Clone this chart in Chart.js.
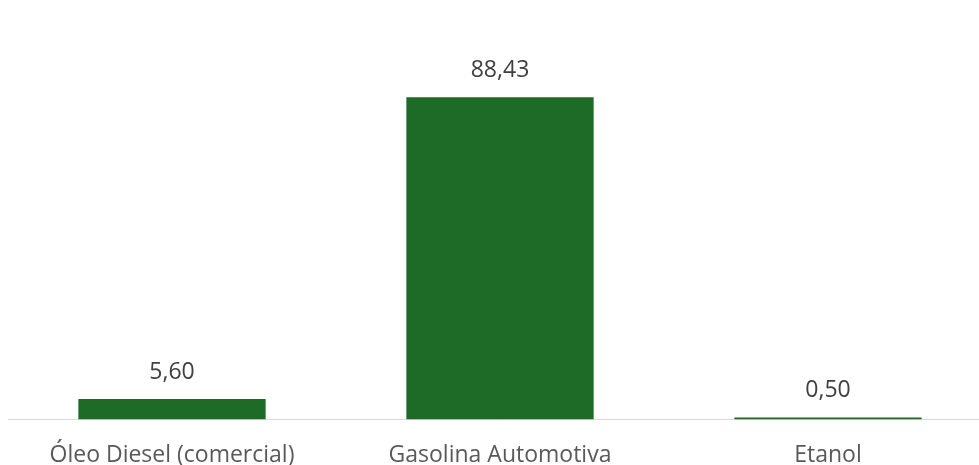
<!DOCTYPE html>
<html>
<head>
<meta charset="utf-8">
<script src="https://cdn.jsdelivr.net/npm/chart.js@4.4.1/dist/chart.umd.min.js"></script>
<style>
  html, body { margin: 0; padding: 0; background: #fff; overflow: hidden; }
  #wrap { width: 979px; height: 465px; overflow: hidden; }
</style>
</head>
<body>
<div id="wrap"><canvas id="fuelChart" width="992" height="483"></canvas></div>
<script>
var categories = ["Óleo Diesel (comercial)", "Gasolina Automotiva", "Etanol"];
var values = [5.60, 88.43, 0.50];

// value labels above each bar, pt-BR decimal comma
var barLabels = {
    id: 'barLabels',
    afterDatasetsDraw: function (chart) {
        var ctx = chart.ctx;
        var meta = chart.getDatasetMeta(0);
        ctx.save();
        ctx.font = '23px "Open Sans"';
        ctx.fillStyle = '#404040';
        ctx.textAlign = 'center';
        ctx.textBaseline = 'middle';
        meta.data.forEach(function (bar, i) {
            var txt = values[i].toFixed(2).replace('.', ',');
            ctx.fillText(txt, bar.x, bar.y - 27);
        });
        ctx.restore();
    }
};

var canvasElement = document.getElementById("fuelChart");
var config = {
    type: "bar",
    data: {
        labels: categories,
        datasets: [{
            data: values,
            backgroundColor: "#1d6b26",
            barPercentage: 0.571,
            categoryPercentage: 1
        }]
    },
    options: {
        responsive: false,
        animation: false,
        layout: {
            padding: { top: 55, left: 8, right: 0, bottom: 0 }
        },
        plugins: {
            legend: { display: false },
            tooltip: { enabled: false }
        },
        scales: {
            x: {
                grid: { display: false },
                border: { color: '#d9d9d9', width: 1 },
                ticks: {
                    color: '#595959',
                    padding: 14,
                    font: { size: 23, family: 'Open Sans' }
                }
            },
            y: {
                display: false,
                min: 0,
                max: 100
            }
        }
    },
    plugins: [barLabels]
};
var fuelChart = new Chart(canvasElement, config);
</script>
</body>
</html>
